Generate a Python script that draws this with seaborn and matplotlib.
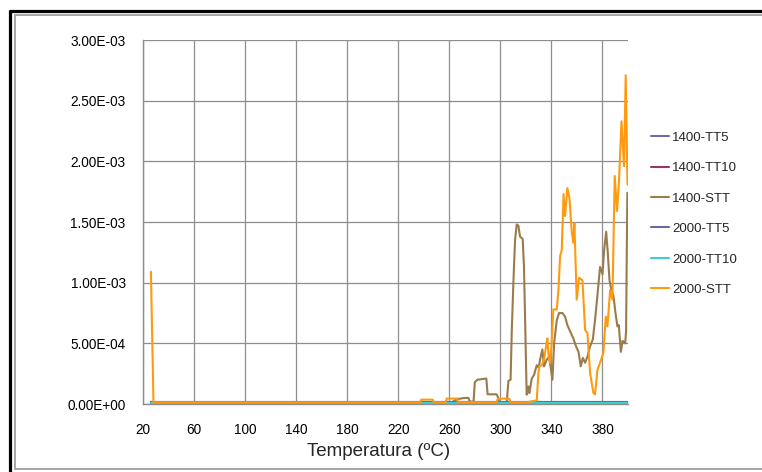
import matplotlib
matplotlib.use("Agg")
import matplotlib.pyplot as plt
from matplotlib.lines import Line2D
from matplotlib.ticker import FuncFormatter, MultipleLocator
import numpy as np
import pandas as pd
import seaborn as sns

# ---------------- data ----------------
series_names = ["1400-TT5", "1400-TT10", "1400-STT", "2000-TT5", "2000-TT10", "2000-STT"]
series_colors = ["#6F6FA6", "#99336A", "#9A7B4C", "#6A6AA2", "#3CCFCF", "#FF9A10"]

flat_temp = [26.2, 100, 200, 300, 400]
tt5_1400 = [1.3e-5, 1.3e-5, 1.3e-5, 1.3e-5, 1.3e-5]
tt10_1400 = [1.0e-5, 1.0e-5, 1.0e-5, 1.0e-5, 1.0e-5]
tt5_2000 = [1.3e-5, 1.3e-5, 1.3e-5, 1.3e-5, 1.3e-5]
tt10_2000 = [0.5e-5, 0.5e-5, 0.5e-5, 0.5e-5, 0.5e-5]

stt1400_temp = [26.2, 262, 266, 272, 275, 276, 279, 280, 282, 289, 290, 297, 298, 299,
                305, 306.3, 308, 308.9, 310.2, 311.5, 312.8, 314.1, 315.4, 317.5, 318.5,
                319.6, 320.6, 322, 322.7, 324.6, 326.4, 328.5, 330, 331.1, 332.9, 334.2,
                336.3, 338.2, 340.8, 342.1, 344.2, 346, 348.6, 350.7, 352.5, 354.6, 357.2,
                359.3, 361.2, 363, 364.6, 366.4, 368.2, 370.3, 372.4, 374.2, 376, 378.1,
                380, 381.3, 382.9, 384.2, 385.5, 387, 388.6, 390.2, 391.7, 392.8, 394.4,
                395.7, 397.8, 398.5, 399.0, 399.5]
stt1400_val = [1.4e-5, 1.4e-5, 4.0e-5, 5.0e-5, 5.0e-5, 2.0e-5, 2.0e-5, 1.8e-4, 2.0e-4,
               2.1e-4, 8.0e-5, 8.0e-5, 6.0e-5, 1.6e-5,
               1.6e-5, 1.9e-4, 2.0e-4, 5.9e-4, 1.0e-3, 1.35e-3, 1.48e-3, 1.47e-3, 1.38e-3,
               1.36e-3, 1.13e-3,
               5.9e-4, 7.7e-5, 1.45e-4, 9.0e-5, 2.1e-4, 2.4e-4, 3.2e-4, 3.0e-4, 3.65e-4,
               4.5e-4, 3.1e-4,
               3.65e-4, 3.9e-4, 2.0e-4, 5.0e-4, 6.9e-4, 7.5e-4, 7.5e-4, 7.2e-4, 6.5e-4,
               6.0e-4, 5.4e-4,
               4.75e-4, 4.3e-4, 3.1e-4, 3.8e-4, 3.4e-4, 3.9e-4, 4.75e-4, 5.3e-4, 6.95e-4,
               8.9e-4, 1.13e-3,
               1.07e-3, 1.27e-3, 1.42e-3, 1.24e-3, 1.02e-3, 9.4e-4, 8.9e-4, 7.5e-4, 6.4e-4,
               6.5e-4, 4.3e-4,
               5.2e-4, 5.0e-4, 6.0e-4, 1.2e-3, 1.74e-3]

stt2000_temp = [26.2, 28.2, 237, 238, 247, 248, 257, 258, 266, 267, 297, 298, 307, 308,
                320.6, 328.5, 329.8, 330.6, 332.4, 334.2, 335.8, 336.8, 337.9, 338.9, 340.2,
                341.5, 344.2, 345.5, 346.8, 348.1, 349.5, 350.7, 352.5, 354.1, 356.0, 357.2,
                358.0, 359.8, 361.7, 364.3, 366.4, 368.2, 370.3, 372.9, 374.2, 376.0, 378.1,
                380.7, 382.6, 383.9, 386.0, 387.8, 389.6, 391.4, 393.0, 394.9, 396.9, 398.2,
                399.6]
stt2000_val = [1.09e-3, 1.4e-5, 1.4e-5, 3.6e-5, 3.6e-5, 1.4e-5, 1.4e-5, 4.5e-5, 4.5e-5,
               1.4e-5, 1.4e-5, 4.4e-5, 4.4e-5, 1.4e-5,
               1.4e-5, 3.0e-5, 2.55e-4, 3.1e-4, 3.2e-4, 3.65e-4, 4.75e-4, 5.4e-4, 3.9e-4,
               3.4e-4, 5.0e-4,
               7.8e-4, 7.8e-4, 9.4e-4, 1.22e-3, 1.27e-3, 1.73e-3, 1.55e-3, 1.78e-3, 1.70e-3,
               1.41e-3, 1.33e-3,
               1.49e-3, 8.6e-4, 1.04e-3, 1.02e-3, 6.1e-4, 5.85e-4, 2.55e-4, 9.0e-5, 8.0e-5,
               2.8e-4, 3.4e-4,
               4.2e-4, 7.2e-4, 6.4e-4, 9.4e-4, 8.6e-4, 1.88e-3, 1.59e-3, 1.85e-3, 2.33e-3,
               1.96e-3, 2.71e-3,
               1.81e-3]

x_ticks = [20, 60, 100, 140, 180, 220, 260, 300, 340, 380]

# ---------------- build long table ----------------
frames = []
for name, t, v in [
    ("1400-TT5", flat_temp, tt5_1400),
    ("1400-TT10", flat_temp, tt10_1400),
    ("1400-STT", stt1400_temp, stt1400_val),
    ("2000-TT5", flat_temp, tt5_2000),
    ("2000-TT10", flat_temp, tt10_2000),
    ("2000-STT", stt2000_temp, stt2000_val),
]:
    frames.append(pd.DataFrame({"temp": t, "value": v, "series": name}))
df = pd.concat(frames, ignore_index=True)

# ---------------- figure ----------------
sns.set_style("white")
plt.rcParams["font.family"] = ["Liberation Sans", "DejaVu Sans"]

W, H = 762, 472
fig = plt.figure(figsize=(W / 100, H / 100), dpi=100)
ax = fig.add_axes([143 / W, 1 - 404 / H, (628 - 143) / W, (404 - 40) / H])

sns.lineplot(data=df, x="temp", y="value", hue="series", hue_order=series_names,
             palette=dict(zip(series_names, series_colors)), estimator=None,
             sort=False, units="series", linewidth=1.5, ax=ax)

ax.set_xlim(20, 400)
ax.set_ylim(0, 3.0e-3)
ax.set_xticks(x_ticks)
ax.yaxis.set_major_locator(MultipleLocator(0.5e-3))
ax.yaxis.set_major_formatter(FuncFormatter(lambda v, p: f"{v:.2E}"))
ax.grid(True, color="#8E8E8E", linewidth=0.9)
ax.set_axisbelow(True)
for s in ["top", "right"]:
    ax.spines[s].set_visible(False)
for s in ["left", "bottom"]:
    ax.spines[s].set_color("#8E8E8E")
    ax.spines[s].set_linewidth(1.0)
ax.tick_params(axis="both", length=0, labelsize=9.8, colors="black")
ax.tick_params(axis="x", pad=14)
ax.tick_params(axis="y", pad=12.5)
ax.set_xlabel("")
ax.set_ylabel("")

# legend
old = ax.get_legend()
handles = old.legend_handles
labels = [t.get_text() for t in old.get_texts()]
old.remove()
for h in handles:
    h.set_linewidth(1.5)
ax.legend(handles, labels, loc="upper left", bbox_to_anchor=(650.7 / W, 1 - 131.5 / H),
          bbox_transform=fig.transFigure, frameon=False, fontsize=9.5,
          handlelength=1.39, handletextpad=0.25, labelspacing=1.38, borderpad=0,
          borderaxespad=0)

fig.text(379 / W, 1 - 451 / H, "Temperatura (ºC)", ha="center", va="center",
         fontsize=13.5)

# outer frame lines (pixel coordinates converted to figure fraction)
def fline(x0, y0, x1, y1, color, lw):
    fig.add_artist(Line2D([x0 / W, x1 / W], [1 - y0 / H, 1 - y1 / H],
                          transform=fig.transFigure, color=color, linewidth=lw,
                          solid_capstyle="butt"))

fline(8.5, 11.2, W, 11.2, "black", 2.3)
fline(10.3, 9.5, 10.3, H, "black", 2.3)
fline(14, 15.3, W, 15.3, "#A6A6A6", 1.4)
fline(15, 14.5, 15, 469.5, "#A6A6A6", 1.4)
fline(14.5, 469.3, W, 469.3, "#A6A6A6", 1.4)

fig.savefig("out.png", dpi=100)
